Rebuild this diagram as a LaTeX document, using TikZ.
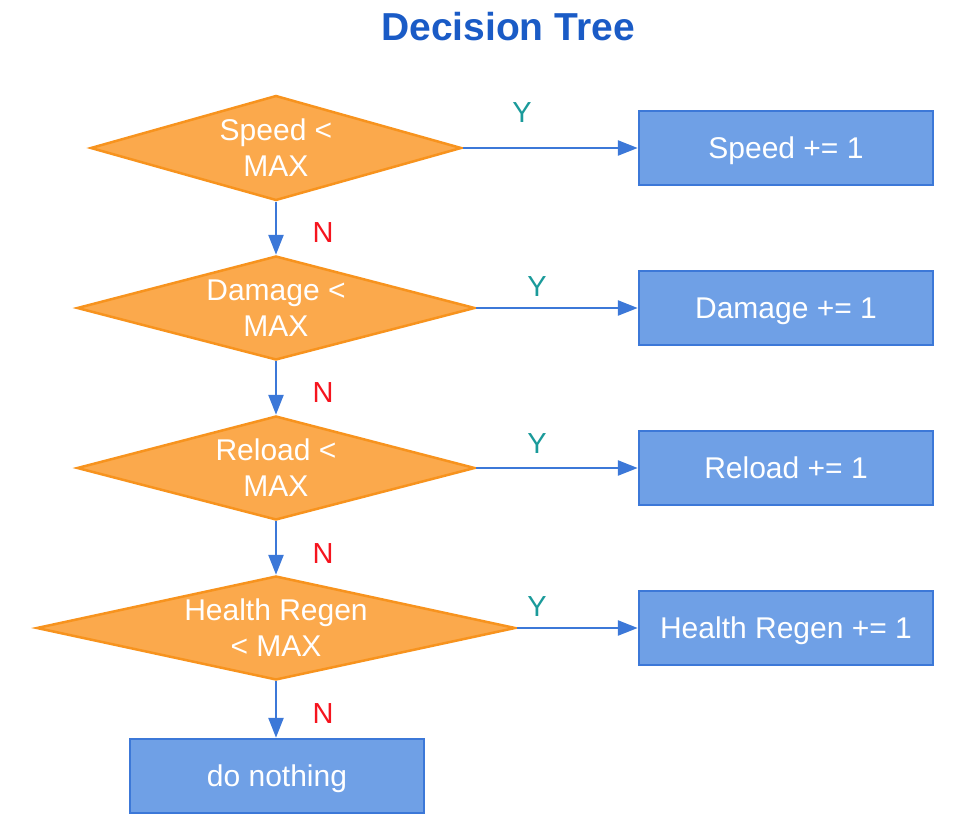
\documentclass[tikz,border=0pt]{standalone}
\usepackage{fontspec}
\setmainfont{Liberation Sans}
\usetikzlibrary{shapes.geometric,arrows.meta}
\definecolor{condfill}{HTML}{FBA94C}
\definecolor{condline}{HTML}{F7931E}
\definecolor{actfill}{HTML}{6FA0E6}
\definecolor{actline}{HTML}{3C78D8}
\definecolor{titleblue}{HTML}{1A5BC6}
\definecolor{yesteal}{HTML}{1A9A9A}
\definecolor{nored}{HTML}{F5141E}
\tikzstyle{condition}=[diamond, draw=condline, line width=2.5pt, fill=condfill, text=white, align=center, inner sep=-3pt, font=\fontsize{30}{36}\selectfont]
\tikzstyle{action}=[rectangle, draw=actline, line width=2.5pt, fill=actfill, text=white, minimum width=294pt, minimum height=74pt, text height=21.5pt, text depth=0pt, font=\fontsize{30}{36}\selectfont]
\tikzstyle{yes label}=[text=yesteal, font=\fontsize{29}{32}\selectfont]
\tikzstyle{no label}=[text=nored, font=\fontsize{29}{32}\selectfont]
\tikzstyle{flow}=[draw=actline, line width=2.5pt, -{Triangle[length=20pt,width=15pt]}]

\begin{document}
\begin{tikzpicture}[x=1pt,y=-1pt]
    \useasboundingbox (0,0) rectangle (966,832);

    % Title
    \draw (508,27) node[text=titleblue, font=\fontsize{39}{44}\selectfont\bfseries] (title) {Decision Tree};

    % Conditions
    \draw (276,148) node[condition, minimum width=371pt, minimum height=105pt, shape aspect=3.53] (speed) {Speed <\\MAX};
    \draw (276,308) node[condition, minimum width=398pt, minimum height=104pt, shape aspect=3.83] (damage) {Damage <\\MAX};
    \draw (276,468) node[condition, minimum width=398pt, minimum height=104pt, shape aspect=3.83] (reload) {Reload <\\MAX};
    \draw (276,628) node[condition, minimum width=479pt, minimum height=104pt, shape aspect=4.6] (regen) {Health Regen\\< MAX};

    % Actions
    \draw (786,148) node[action] (speedup) {Speed += 1};
    \draw (786,308) node[action] (damageup) {Damage += 1};
    \draw (786,468) node[action] (reloadup) {Reload += 1};
    \draw (786,628) node[action] (regenup) {Health Regen += 1};
    \draw (277,776) node[action] (nothing) {do nothing};

    % Arrows
    \draw[flow] (speed.east) -- (speedup.west);
    \draw[flow] (damage.east) -- (damageup.west);
    \draw[flow] (reload.east) -- (reloadup.west);
    \draw[flow] (regen.east) -- (regenup.west);
    \draw[flow] (speed.south) -- (damage.north);
    \draw[flow] (damage.south) -- (reload.north);
    \draw[flow] (reload.south) -- (regen.north);
    \draw[flow] (regen.south) -- (regen.south |- nothing.north);

    % Labels
    \draw (522,113) node[yes label] (y1) {Y};
    \draw (537,287) node[yes label] (y2) {Y};
    \draw (537,444) node[yes label] (y3) {Y};
    \draw (537,607) node[yes label] (y4) {Y};
    \draw (323,233) node[no label] (n1) {N};
    \draw (323,393) node[no label] (n2) {N};
    \draw (323,554) node[no label] (n3) {N};
    \draw (323,714) node[no label] (n4) {N};

\end{tikzpicture}
\end{document}
